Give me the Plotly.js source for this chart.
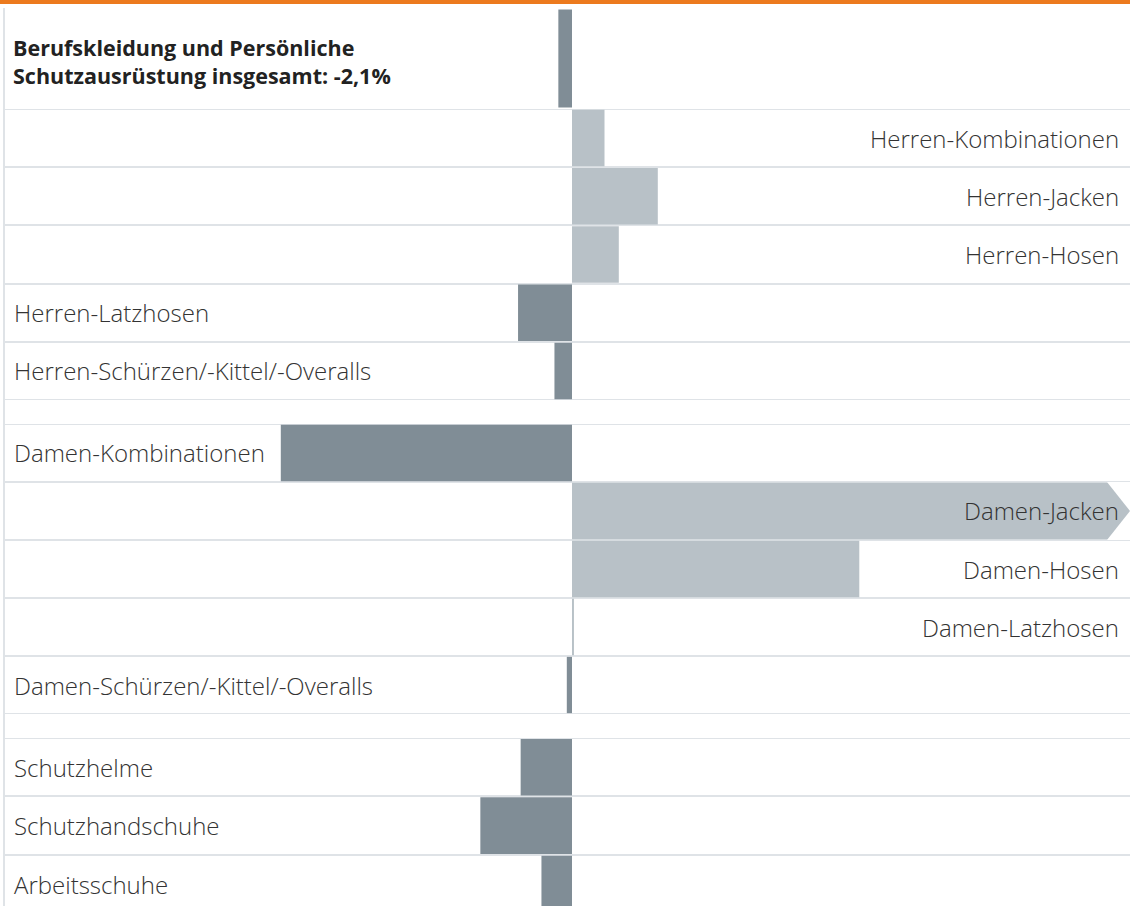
<!DOCTYPE html>
<html>
<head>
<meta charset="utf-8">
<script src="https://cdn.plot.ly/plotly-3.0.1.min.js"></script>
<style>
html,body{margin:0;padding:0;background:#fff;}
#chart{width:1130px;height:906px;}
</style>
</head>
<body>
<div id="chart"></div>
<script>
// ---- data ----
const headerLabels = ["Berufskleidung und Persönliche<br>Schutzausrüstung insgesamt: -2,1%"];
const headerValues = [-2.1];

const herrenLabels = ["Herren-Kombinationen", "Herren-Jacken", "Herren-Hosen", "Herren-Latzhosen", "Herren-Schürzen/-Kittel/-Overalls"];
const herrenValues = [5.0, 13.2, 7.2, -8.3, -2.7];

const damenLabels = ["Damen-Kombinationen", "Damen-Jacken", "Damen-Hosen", "Damen-Latzhosen", "Damen-Schürzen/-Kittel/-Overalls"];
const damenValues = [-44.8, 95.0, 44.2, 0.3, -0.8];

const otherLabels = ["Schutzhelme", "Schutzhandschuhe", "Arbeitsschuhe"];
const otherValues = [-7.9, -14.1, -4.7];

// ---- styling ----
const W = 1130, H = 906;
const ML = 4;                 // left margin px
const zeroPx = 572;           // zero line position px
const pxPerUnit = 6.5;
const plotW = W - ML;
const xmin = -(zeroPx - ML) / pxPerUnit;
const xmax = (W - zeroPx) / pxPerUnit;

const DARK = '#808d96', LIGHT = '#b8c1c7', GRID = '#dfe3e7', TXT = '#333333';
const FONT = 'Open Sans, Noto Sans, sans-serif';

function yd(topPx, botPx){ return [1 - botPx / H, 1 - topPx / H]; }

const groups = [
  {labels: headerLabels, values: headerValues, axis: 'y',  dom: yd(8, 109),  range: [0.5, -0.5], header: true},
  {labels: herrenLabels, values: herrenValues, axis: 'y2', dom: yd(109, 400), range: [4.5, -0.5]},
  {labels: damenLabels,  values: damenValues,  axis: 'y3', dom: yd(424, 714), range: [4.5, -0.5]},
  {labels: otherLabels,  values: otherValues,  axis: 'y4', dom: yd(738, 906), range: [2.375, -0.5]}
];

const traces = [];
const annotations = [];
const layout = {
  width: W, height: H,
  margin: {l: ML, r: 0, t: 0, b: 0},
  paper_bgcolor: '#ffffff', plot_bgcolor: '#ffffff',
  showlegend: false,
  bargap: 0.03,
  xaxis: {range: [xmin, xmax], showgrid: false, zeroline: false, showticklabels: false, ticks: '', showline: false, fixedrange: true},
  shapes: [],
  annotations: annotations,
  font: {family: FONT, color: TXT}
};

const xLeft = (12 - ML) / plotW;
const xRight = (1121 - ML) / plotW;

groups.forEach((g, gi) => {
  const axKey = g.axis === 'y' ? 'yaxis' : 'yaxis' + g.axis.slice(1);
  const n = g.labels.length;
  layout[axKey] = {
    domain: g.dom, type: 'category',
    categoryorder: 'array', categoryarray: g.labels,
    range: g.range,
    showgrid: true, gridcolor: GRID, gridwidth: 2,
    tickson: 'boundaries', ticks: '', showticklabels: false,
    zeroline: false, showline: false, fixedrange: true,
    anchor: 'x'
  };
  // outer separators of each block
  if (!g.header) {
    layout.shapes.push({type: 'line', xref: 'paper', yref: g.axis, x0: 0, x1: 1, y0: -0.5, y1: -0.5, layer: 'below', line: {color: GRID, width: 2}});
    if (n - 0.5 <= g.range[0]) {
      layout.shapes.push({type: 'line', xref: 'paper', yref: g.axis, x0: 0, x1: 1, y0: n - 0.5, y1: n - 0.5, layer: 'below', line: {color: GRID, width: 2}});
    }
  }
  traces.push({
    type: 'bar', orientation: 'h',
    x: g.values, y: g.labels,
    xaxis: 'x', yaxis: g.axis,
    marker: {color: g.values.map(v => (g.header || v < 0) ? DARK : LIGHT)},
    hoverinfo: 'skip', textposition: 'none'
  });
  g.labels.forEach((lab, i) => {
    const v = g.values[i];
    const left = g.header || v < 0;
    annotations.push({
      xref: 'paper', yref: g.axis,
      x: g.header ? (11 - ML) / plotW : (left ? xLeft : xRight), y: lab,
      xanchor: left ? 'left' : 'right', yanchor: 'middle',
      yshift: g.header ? -3 : 0,
      text: g.header ? '<b>' + lab + '</b>' : lab,
      align: 'left', showarrow: false,
      font: g.header ? {family: FONT, size: 21.5, color: '#222222', weight: 700}
                     : {family: FONT, size: 24, color: TXT, weight: 300}
    });
    // arrow notch for bars running past the right edge
    if (v > xmax) {
      const notch = (1107 - zeroPx) / pxPerUnit;
      layout.shapes.push({
        type: 'path', xref: 'x', yref: g.axis, layer: 'above',
        path: `M ${notch} ${i - 0.5} L ${xmax + 1} ${i - 0.5} L ${xmax + 1} ${i} L ${xmax} ${i} Z`,
        fillcolor: '#ffffff', line: {width: 0}
      });
      layout.shapes.push({
        type: 'path', xref: 'x', yref: g.axis, layer: 'above',
        path: `M ${notch} ${i + 0.5} L ${xmax + 1} ${i + 0.5} L ${xmax + 1} ${i} L ${xmax} ${i} Z`,
        fillcolor: '#ffffff', line: {width: 0}
      });
    }
  });
});

// orange top rule and left rule
layout.shapes.push({type: 'rect', xref: 'paper', yref: 'paper', x0: -ML / plotW, x1: 1, y0: 1 - 4 / H, y1: 1, fillcolor: '#ec7a1e', line: {width: 0}});
layout.shapes.push({type: 'line', xref: 'paper', yref: 'paper', x0: 0, x1: 0, y0: 0, y1: 1 - 8 / H, line: {color: GRID, width: 2}});

Plotly.newPlot('chart', traces, layout, {displayModeBar: false, staticPlot: true});
</script>
</body>
</html>
